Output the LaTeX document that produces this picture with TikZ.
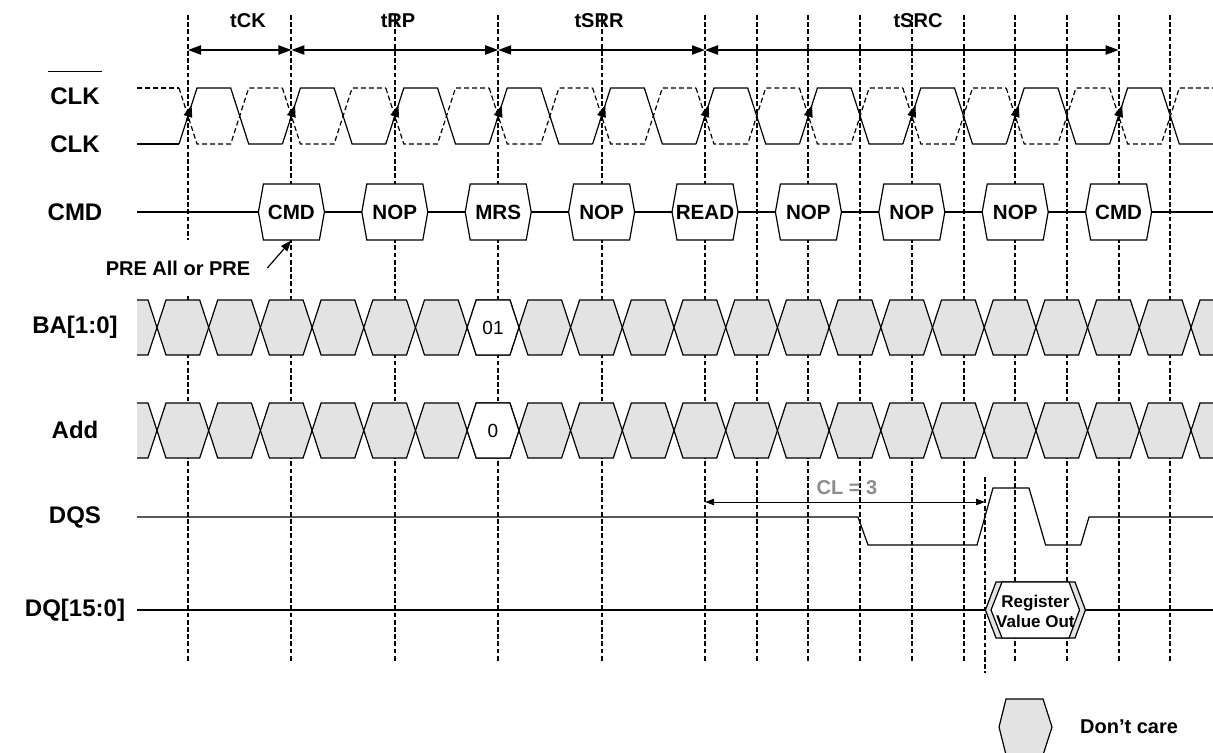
\documentclass[tikz,border=0pt]{standalone}
\usepackage{fontspec}
\setmainfont{Liberation Sans}
\usetikzlibrary{arrows.meta, positioning}

\definecolor{dcgray}{gray}{0.89}
\definecolor{clgray}{gray}{0.55}

\tikzset{
  wave/.style={line width=0.6pt},
  clkbar/.style={line width=0.6pt, dash pattern=on 2.5pt off 1.5pt},
  grid/.style={line width=1pt, dash pattern=on 2.4pt off 1.2pt},
  timing/.style={line width=0.8pt, {Triangle[length=6.5pt,width=4.6pt]}-{Triangle[length=6.5pt,width=4.6pt]}},
  bus/.style={line width=0.6pt, fill=dcgray},
  cmdbox/.style={line width=0.6pt, fill=white},
  boxtext/.style={font=\bfseries\fontsize{10.3}{12}\selectfont, minimum height=28pt, inner sep=0pt},
  bold10/.style={font=\bfseries\fontsize{10}{12}\selectfont},
  siglabel/.style={font=\bfseries\fontsize{12}{14}\selectfont},
  valtext/.style={font=\fontsize{9.5}{11}\selectfont},
}

\begin{document}
\begin{tikzpicture}[x=0.5pt, y=-0.5pt]
        \useasboundingbox (0,0) rectangle (1213,753);

        % Vertical reference lines
        \foreach \k in {0,...,9} {
            \draw[grid] ({188+103.4*\k},15) -- ({188+103.4*\k},662);
        }
        \foreach \k in {5,...,9} {
            \draw[grid] ({239.7+103.4*\k},15) -- ({239.7+103.4*\k},662);
        }
        \draw[grid] (985,477) -- (985,673);

        % Timing parameters
        \coordinate (t0) at (188,50);
        \coordinate (t1) at (291.4,50);
        \coordinate (t2) at (498.2,50);
        \coordinate (t3) at (705,50);
        \coordinate (t4) at (1118.6,50);
        \draw[timing] (t0) -- (t1);
        \draw[timing] (t1) -- (t2);
        \draw[timing] (t2) -- (t3);
        \draw[timing] (t3) -- (t4);
        \node[bold10] (tck) at (248,21) {tCK};
        \node[bold10] (trp) at (398,21) {tRP};
        \node[bold10] (tsrr) at (599,21) {tSRR};
        \node[bold10] (tsrc) at (918,21) {tSRC};

        % Clock pair
        \draw[wave] (137,144) -- (179,144);
        \draw[clkbar] (137,88) -- (179,88);
        \foreach \k in {0,...,9} {
            \pgfmathsetmacro\re{188+103.4*\k}
            \pgfmathsetmacro\fe{\re+51.7}
            \draw[wave] (\re-9,144) -- (\re+9,88) -- (\fe-9,88) -- (\fe+9,144) -- (\fe+42.7,144);
            \draw[clkbar] (\re-9,88) -- (\re+9,144) -- (\fe-9,144) -- (\fe+9,88) -- (\fe+42.7,88);
            \draw[wave, -{Triangle[length=6pt,width=4.4pt]}] (\re-1.6,121) -- (\re+3.6,105);
        }

        % Signal names
        \node[siglabel] (clkn) at (75,96) {CLK};
        \draw[wave] ([xshift=2.5pt,yshift=4.5pt]clkn.north west) -- ([xshift=-2.5pt,yshift=4.5pt]clkn.north east);
        \node[siglabel] (clk) at (75,144) {CLK};
        \node[siglabel] (cmdl) at (75,212) {CMD};
        \node[siglabel] (bal) at (75,327) {BA[1:0]};
        \node[siglabel] (addl) at (75,430) {Add};
        \node[siglabel] (dqsl) at (75,517) {DQS};
        \node[siglabel] (dql) at (75,610) {DQ[15:0]};

        % Command bus
        \draw[wave] (137,212) -- (1213,212);
        \foreach \x/\t/\n in {291.4/CMD/c1, 394.8/NOP/c2, 498.2/MRS/c3, 601.6/NOP/c4, 705/READ/c5,
                              808.4/NOP/c6, 911.8/NOP/c7, 1015.2/NOP/c8, 1118.6/CMD/c9} {
            \draw[cmdbox] (\x-33,212) -- (\x-28,184) -- (\x+28,184) -- (\x+33,212) -- (\x+28,240) -- (\x-28,240) -- cycle;
            \node[boxtext] (\n) at (\x,212) {\t};
        }
        \node[bold10, fill=white, minimum height=28pt] (pre) at (178,268) {PRE All or PRE};
        \draw[wave, -{Triangle[length=5.5pt,width=4pt]}] ([xshift=5pt]pre.east) -- (c1.south);

        % Bank and address buses
        \foreach \y in {300,403} {
            \fill[dcgray] (137,\y) -- (148,\y) -- (157,\y+27.5) -- (148,\y+55) -- (137,\y+55) -- cycle;
            \draw[wave] (137,\y) -- (148,\y) -- (157,\y+27.5) -- (148,\y+55) -- (137,\y+55);
            \foreach \k in {0,...,19} {
                \pgfmathsetmacro\xa{157+51.7*\k}
                \pgfmathsetmacro\xb{\xa+51.7}
                \draw[bus] (\xa,\y+27.5) -- (\xa+9,\y) -- (\xb-9,\y) -- (\xb,\y+27.5) -- (\xb-9,\y+55) -- (\xa+9,\y+55) -- cycle;
            }
            \fill[dcgray] (1213,\y) -- (1200,\y) -- (1191,\y+27.5) -- (1200,\y+55) -- (1213,\y+55) -- cycle;
            \draw[wave] (1213,\y) -- (1200,\y) -- (1191,\y+27.5) -- (1200,\y+55) -- (1213,\y+55);
            \draw[cmdbox] (467.2,\y+27.5) -- (476.2,\y) -- (509.9,\y) -- (518.9,\y+27.5) -- (509.9,\y+55) -- (476.2,\y+55) -- cycle;
        }
        \node[valtext] (baval) at (493,327.5) {01};
        \node[valtext] (addval) at (493,430.5) {0};

        % Data strobe
        \draw[wave] (137,517) -- (858,517) -- (868,545) -- (977,545) -- (993,488) -- (1029,488)
                    -- (1045.6,545) -- (1080.7,545) -- (1089,517) -- (1213,517);
        \coordinate (cla) at (705,502);
        \coordinate (clb) at (985,502);
        \draw[line width=0.5pt, {Triangle[length=4.5pt,width=3.2pt]}-{Triangle[length=4.5pt,width=3.2pt]}] (cla) -- (clb);
        \node[bold10, text=clgray] (cl) at (847,488) {CL = 3};

        % Data
        \draw[wave] (137,610) -- (1213,610);
        \draw[bus] (985.4,610) -- (996,582) -- (1075,582) -- (1085.4,610) -- (1075,638) -- (996,638) -- cycle;
        \draw[cmdbox] (991,610) -- (1002,582) -- (1069,582) -- (1079.5,610) -- (1069,638) -- (1002,638) -- cycle;
        \node[font=\bfseries\fontsize{8.5}{10}\selectfont, align=center] (regout) at (1035.4,611) {Register\\Value Out};

        % Legend
        \draw[bus] (999,727) -- (1006,699) -- (1043,699) -- (1052,727) -- (1043,755) -- (1006,755) -- cycle;
        \node[bold10] (dc) at (1129,727) {Don’t care};
\end{tikzpicture}
\end{document}
